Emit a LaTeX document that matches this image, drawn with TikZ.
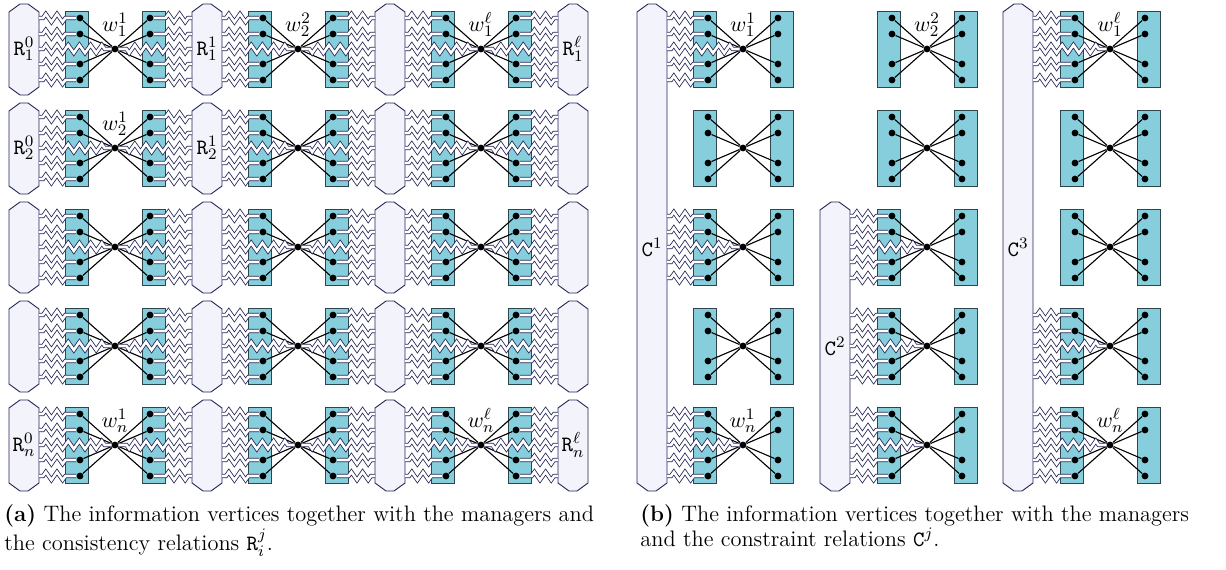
\documentclass[tikz,border=0pt]{standalone}
\usetikzlibrary{decorations.pathmorphing,positioning}

\definecolor{mgrfill}{RGB}{134,206,220}
\definecolor{mgrdraw}{RGB}{45,70,78}
\definecolor{relfill}{RGB}{243,243,252}
\definecolor{reldraw}{RGB}{35,35,85}

\tikzset{
    mgr/.style={draw=mgrdraw, fill=mgrfill, line width=0.45pt},
    rel/.style={draw=reldraw, fill=relfill, line width=0.45pt},
    idot/.style={circle, fill=black, inner sep=0pt, minimum size=3.4pt},
    spoke/.style={line width=0.55pt},
    wavy/.style={draw=reldraw, line width=0.4pt, double=white, double distance=1.3pt,
        decorate, decoration={zigzag, segment length=5.6pt, amplitude=2pt,
        pre length=2pt, post length=5pt}},
    midwave/.style={decoration={post length=3pt}},
    lbl/.style={inner sep=0pt, font=\fontsize{11}{13}\selectfont},
    capt/.style={inner sep=0pt, align=left, font=\fontsize{11.2}{12.5}\selectfont},
}

% hexagon of a relation: name, x, top, bottom
\newcommand{\relshape}[4]{%
    \draw[rel] ({#2-15},{#3+8}) -- ({#2-4},#3) -- ({#2+4},#3) -- ({#2+15},{#3+8})
        -- ({#2+15},{#4-8}) -- ({#2+4},#4) -- ({#2-4},#4) -- ({#2-15},{#4-8}) -- cycle;
    \coordinate (#1e) at ({#2+15},{(#3+#4)/2});
    \coordinate (#1w) at ({#2-15},{(#3+#4)/2});
}

% information vertex with its two managers: name, x, y
\newcommand{\mgrunit}[3]{%
    \draw[mgr] ({#2-50},{#3-38}) rectangle ({#2-27},{#3+38});
    \draw[mgr] ({#2+27},{#3-38}) rectangle ({#2+50},{#3+38});
    \node[idot] (#1) at (#2,#3) {};
    \foreach \k/\dy in {1/-31,2/-15,3/15,4/31} {
        \node[idot] (#1l\k) at ({#2-35},{#3+\dy}) {};
        \node[idot] (#1r\k) at ({#2+35},{#3+\dy}) {};
        \draw[spoke] (#1l\k) -- (#1);
        \draw[spoke] (#1r\k) -- (#1);
    }
}

% wavy links from a relation edge to one side of a unit: edge, unit, side
\newcommand{\relwaves}[3]{%
    \foreach \k in {1,...,4} {
        \draw[wavy] (#1 |- #2#3\k) -- (#2#3\k);
    }
    \draw[wavy, midwave] (#1 |- #2) -- (#2);
}

\begin{document}
\begin{tikzpicture}[x=0.5pt, y=-0.5pt]
    \useasboundingbox (0,0) rectangle (1226,569);

    % (a) consistency relations
    \foreach \i/\cy in {1/49,2/148,3/247,4/346,5/445} {
        \foreach \k/\hx in {0/24,1/207,2/390,3/573} {
            \relshape{ra\i\k}{\hx}{\cy-45}{\cy+46}
        }
        \foreach \j/\cx in {1/115,2/298,3/481} {
            \mgrunit{ua\i\j}{\cx}{\cy}
            \pgfmathtruncatemacro{\kk}{\j-1}
            \relwaves{ra\i\kk e}{ua\i\j}{l}
            \relwaves{ra\i\j w}{ua\i\j}{r}
        }
    }

    \node[lbl] (lr10) at (24,49) {$\mathtt{R}^0_1$};
    \node[lbl] (lr11) at (207,49) {$\mathtt{R}^1_1$};
    \node[lbl] (lr13) at (573,49) {$\mathtt{R}^\ell_1$};
    \node[lbl] (lr20) at (24,148) {$\mathtt{R}^0_2$};
    \node[lbl] (lr21) at (207,148) {$\mathtt{R}^1_2$};
    \node[lbl] (lr50) at (24,445) {$\mathtt{R}^0_n$};
    \node[lbl] (lr53) at (573,445) {$\mathtt{R}^\ell_n$};

    \node[lbl, above=4pt of ua11] (lwa11) {$w^1_1$};
    \node[lbl, above=4pt of ua12] (lwa12) {$w^2_2$};
    \node[lbl, above=4pt of ua13] (lwa13) {$w^\ell_1$};
    \node[lbl, above=4pt of ua21] (lwa21) {$w^1_2$};
    \node[lbl, above=4pt of ua51] (lwa51) {$w^1_n$};
    \node[lbl, above=4pt of ua53] (lwa53) {$w^\ell_n$};

    % (b) constraint relations
    \relshape{cb1}{652}{4}{491}
    \relshape{cb2}{835}{202}{491}
    \relshape{cb3}{1018}{4}{491}
    \foreach \i/\cy in {1/49,2/148,3/247,4/346,5/445} {
        \foreach \j/\cx in {1/743,2/927,3/1110} {
            \mgrunit{ub\i\j}{\cx}{\cy}
        }
    }
    \foreach \i in {1,3,5} {\relwaves{cb1e}{ub\i1}{l}}
    \foreach \i in {3,4,5} {\relwaves{cb2e}{ub\i2}{l}}
    \foreach \i in {1,4,5} {\relwaves{cb3e}{ub\i3}{l}}

    \node[lbl] (lc1) at (652,247) {$\mathtt{C}^1$};
    \node[lbl] (lc2) at (835,346) {$\mathtt{C}^2$};
    \node[lbl] (lc3) at (1018,247) {$\mathtt{C}^3$};

    \node[lbl, above=4pt of ub11] (lwb11) {$w^1_1$};
    \node[lbl, above=4pt of ub12] (lwb12) {$w^2_2$};
    \node[lbl, above=4pt of ub13] (lwb13) {$w^\ell_1$};
    \node[lbl, above=4pt of ub51] (lwb51) {$w^1_n$};
    \node[lbl, above=4pt of ub53] (lwb53) {$w^\ell_n$};

    % captions
    \node[capt, anchor=north west] (capa) at (4,504)
        {\textbf{(a)} The information vertices together with the managers and\\
         the consistency relations $\mathtt{R}^j_i$.};
    \node[capt, anchor=north west] (capb) at (640,504)
        {\textbf{(b)} The information vertices together with the managers\\
         and the constraint relations $\mathtt{C}^j$.};
\end{tikzpicture}
\end{document}
